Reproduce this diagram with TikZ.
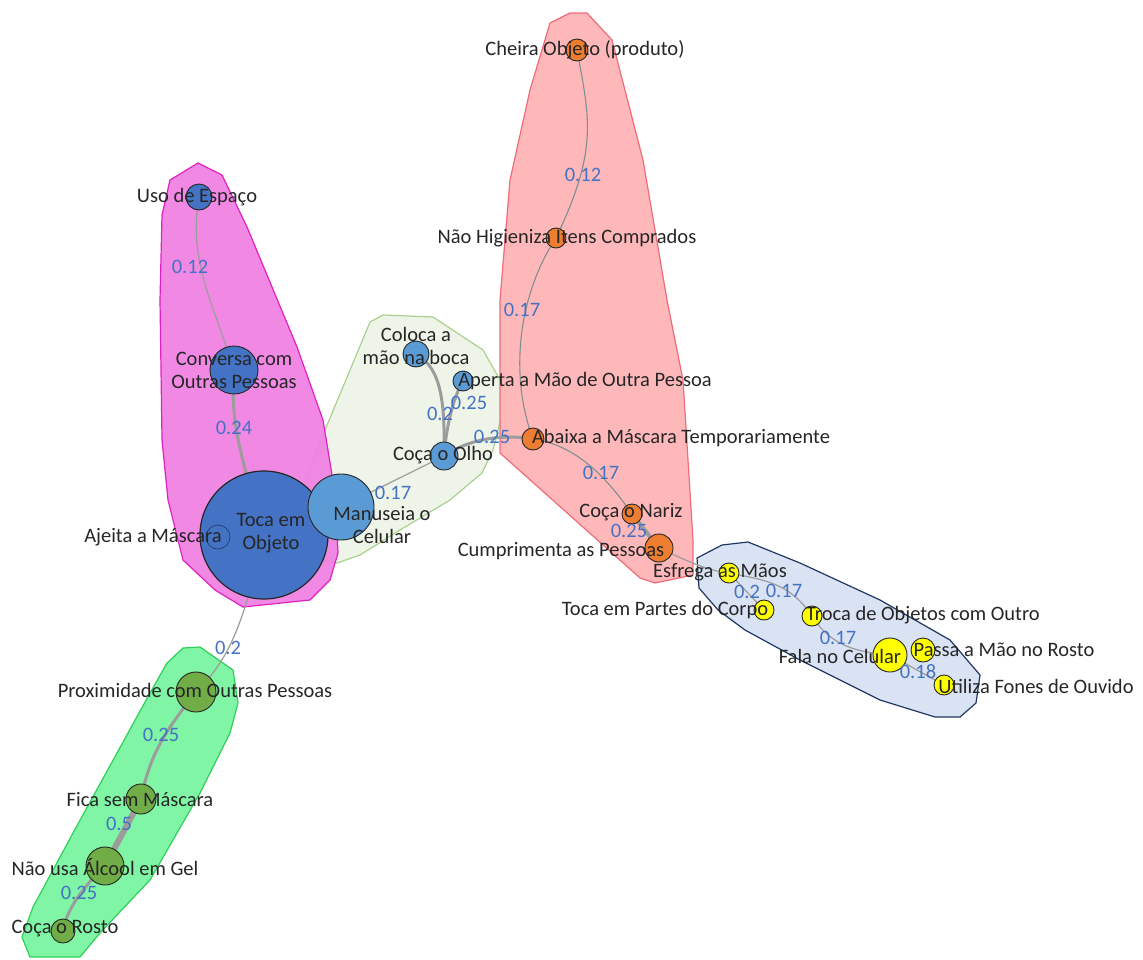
\documentclass[tikz,border=0pt]{standalone}
\usepackage{fontspec}
\setmainfont{Carlito}
\definecolor{dblue}{HTML}{4472C4}
\definecolor{lblue}{HTML}{5B9BD5}
\definecolor{orng}{HTML}{ED7D31}
\definecolor{yel}{HTML}{FFFF00}
\definecolor{olive}{HTML}{70AD47}
\definecolor{edgec}{HTML}{9C9C9C}
\definecolor{edgerd}{HTML}{7F8F8F}
\definecolor{elc}{HTML}{4472C4}
\definecolor{magf}{HTML}{F07FE2}
\definecolor{magd}{HTML}{E020C0}
\definecolor{lgf}{HTML}{EEF5E8}
\definecolor{lgd}{HTML}{A9D18E}
\definecolor{redf}{HTML}{FFB8BA}
\definecolor{redd}{HTML}{F06B78}
\definecolor{bluf}{HTML}{DAE3F3}
\definecolor{blud}{HTML}{1F3864}
\definecolor{grnf}{HTML}{80F5A5}
\definecolor{grnd}{HTML}{2ED05A}
\tikzset{
  hull/.style={line width=1.2pt, line join=round},
  nd/.style={circle, draw=black!85, line width=0.9pt, inner sep=0pt},
  lbl/.style={font=\fontsize{20.5}{23}\selectfont, text=black!85, inner sep=0pt, align=center},
  elbl/.style={font=\fontsize{20.5}{23}\selectfont, text=elc, inner sep=0pt},
  edge/.style={draw=edgec, line width=1.2pt},
  redge/.style={draw=edgerd, line width=1.1pt},
  thk/.style={draw=edgec, line width=3pt},
}
\begin{document}
\begin{tikzpicture}[x=1pt,y=-1pt]
\useasboundingbox (0,0) rectangle (1143,959);
% hulls
\draw[hull, fill=lgf, draw=lgd] (383,315) -- (433,317) -- (483,350) -- (500,380) -- (503,410) -- (493,450) -- (482,473) -- (450,500) -- (400,530) -- (360,555) -- (337,563) -- (318,560) -- (300,540) -- (298,500) -- (325,430) -- (370,322) -- cycle;
\draw[hull, fill=magf, draw=magd, fill opacity=0.92] (198,163) -- (222,175) -- (247,227) -- (297,347) -- (323,420) -- (335,493) -- (338,553) -- (330,580) -- (310,600) -- (243,607) -- (215,590) -- (183,560) -- (168,500) -- (162,440) -- (160,300) -- (162,215) -- (170,180) -- cycle;
\draw[hull, fill=redf, draw=redd] (550,23) -- (570,13) -- (587,13) -- (612,40) -- (643,160) -- (667,300) -- (683,380) -- (693,540) -- (693,575) -- (655,583) -- (640,578) -- (500,453) -- (500,300) -- (510,180) -- (530,90) -- cycle;
\draw[hull, fill=bluf, draw=blud] (697,558) -- (722,545) -- (748,542) -- (800,563) -- (880,600) -- (950,640) -- (980,675) -- (976,703) -- (960,717) -- (935,717) -- (880,700) -- (800,660) -- (745,630) -- (718,610) -- (699,588) -- cycle;
\draw[hull, fill=grnf, draw=grnd] (183,648) -- (200,647) -- (233,670) -- (238,703) -- (230,733) -- (200,793) -- (150,880) -- (100,933) -- (80,957) -- (30,957) -- (22,937) -- (33,907) -- (73,833) -- (117,753) -- (150,693) -- (167,663) -- cycle;
% node positions
\coordinate (uso) at (199,197);
\coordinate (conv) at (234,370);
\coordinate (toca) at (264,535);
\coordinate (ajei) at (218,537);
\coordinate (manu) at (341,507);
\coordinate (colo) at (416,354);
\coordinate (aper) at (463,381);
\coordinate (olho) at (444,456);
\coordinate (chei) at (577,50);
\coordinate (nhig) at (556,238);
\coordinate (abai) at (533,439);
\coordinate (nari) at (632,514);
\coordinate (cump) at (659,548);
\coordinate (esfr) at (729,573);
\coordinate (tpar) at (764,610);
\coordinate (troc) at (812,616);
\coordinate (fala) at (890,655);
\coordinate (pass) at (923,650);
\coordinate (util) at (944,685);
\coordinate (prox) at (196,692);
\coordinate (fica) at (141,799);
\coordinate (nusa) at (105,866);
\coordinate (rost) at (63,931);
% edges
\draw[edge] (uso) .. controls (188,260) and (212,300) .. (conv);
\draw[thk] (conv) .. controls (230,420) and (240,455) .. (toca);
\draw[edge] (toca) .. controls (242,630) and (228,660) .. (prox);
\draw[thk] (prox) .. controls (168,728) and (150,752) .. (fica);
\draw[draw=edgec, line width=6pt] (fica) -- (nusa);
\draw[thk] (nusa) .. controls (80,890) and (66,912) .. (rost);
\draw[edge] (manu) -- (olho);
\draw[thk] (colo) .. controls (442,368) and (445,405) .. (olho);
\draw[thk] (aper) .. controls (452,400) and (446,430) .. (olho);
\draw[thk] (olho) .. controls (470,438) and (505,434) .. (abai);
\draw[redge] (chei) .. controls (590,120) and (598,150) .. (nhig);
\draw[redge] (nhig) .. controls (520,292) and (508,372) .. (abai);
\draw[redge] (abai) .. controls (575,445) and (605,475) .. (nari);
\draw[draw=edgec, line width=4pt] (nari) -- (cump);
\draw[edge] (cump) .. controls (690,562) and (705,570) .. (esfr);
\draw[edge] (esfr) -- (tpar);
\draw[edge] (esfr) .. controls (765,580) and (790,583) .. (troc);
\draw[edge] (troc) .. controls (832,648) and (860,652) .. (fala);
\draw[edge] (fala) -- (util);
% nodes
\node[nd, fill=dblue, minimum size=26pt] (n-uso) at (uso) {};
\node[nd, fill=dblue, minimum size=48pt] (n-conv) at (conv) {};
\node[nd, fill=dblue, minimum size=128pt, line width=1.2pt] (n-toca) at (toca) {};
\node[circle, draw=blud, line width=0.6pt, minimum size=24pt, inner sep=0pt] (n-ajei) at (ajei) {};
\node[nd, fill=lblue, minimum size=66pt] (n-manu) at (manu) {};
\node[nd, fill=lblue, minimum size=26pt] (n-colo) at (colo) {};
\node[nd, fill=lblue, minimum size=20pt] (n-aper) at (aper) {};
\node[nd, fill=lblue, minimum size=28pt] (n-olho) at (olho) {};
\node[nd, fill=orng, minimum size=22pt] (n-chei) at (chei) {};
\node[nd, fill=orng, minimum size=20pt] (n-nhig) at (nhig) {};
\node[nd, fill=orng, minimum size=22pt] (n-abai) at (abai) {};
\node[nd, fill=orng, minimum size=20pt] (n-nari) at (nari) {};
\node[nd, fill=orng, minimum size=28pt] (n-cump) at (cump) {};
\node[nd, fill=yel, minimum size=20pt] (n-esfr) at (esfr) {};
\node[nd, fill=yel, minimum size=20pt] (n-tpar) at (tpar) {};
\node[nd, fill=yel, minimum size=20pt] (n-troc) at (troc) {};
\node[nd, fill=yel, minimum size=34pt] (n-fala) at (fala) {};
\node[nd, fill=yel, minimum size=24pt] (n-pass) at (pass) {};
\node[nd, fill=yel, minimum size=20pt] (n-util) at (util) {};
\node[nd, fill=olive, minimum size=40pt] (n-prox) at (prox) {};
\node[nd, fill=olive, minimum size=30pt] (n-fica) at (fica) {};
\node[nd, fill=olive, minimum size=38pt] (n-nusa) at (nusa) {};
\node[nd, fill=olive, minimum size=24pt] (n-rost) at (rost) {};
% labels
\node[lbl] (l-uso) at (197,197) {Uso de Espaço};
\node[lbl] (l-conv) at (234,370) {Conversa com\\Outras Pessoas};
\node[lbl] (l-toca) at (271,533) {Toca em\\Objeto};
\node[lbl] (l-ajei) at (153,537) {Ajeita a Máscara};
\node[lbl] (l-manu) at (382,525) {Manuseia o\\Celular};
\node[lbl] (l-colo) at (416,346) {Coloca a\\mão na boca};
\node[lbl] (l-aper) at (585,381) {Aperta a Mão de Outra Pessoa};
\node[lbl] (l-olho) at (443,455) {Coça o Olho};
\node[lbl] (l-chei) at (585,50) {Cheira Objeto (produto)};
\node[lbl] (l-nhig) at (567,238) {Não Higieniza Itens Comprados};
\node[lbl] (l-abai) at (681,438) {Abaixa a Máscara Temporariamente};
\node[lbl] (l-nari) at (631,512) {Coça o Nariz};
\node[lbl] (l-cump) at (561,551) {Cumprimenta as Pessoas};
\node[lbl] (l-esfr) at (720,572) {Esfrega as Mãos};
\node[lbl] (l-tpar) at (665,610) {Toca em Partes do Corpo};
\node[lbl] (l-troc) at (923,615) {Troca de Objetos com Outro};
\node[lbl] (l-fala) at (840,656) {Fala no Celular};
\node[lbl] (l-pass) at (1004,650) {Passa a Mão no Rosto};
\node[lbl] (l-util) at (1036,686) {Utiliza Fones de Ouvido};
\node[lbl] (l-prox) at (195,690) {Proximidade com Outras Pessoas};
\node[lbl] (l-fica) at (140,800) {Fica sem Máscara};
\node[lbl] (l-nusa) at (105,867) {Não usa Álcool em Gel};
\node[lbl] (l-rost) at (65,929) {Coça o Rosto};
% edge labels
\node[elbl] (e1) at (190,267) {0.12};
\node[elbl] (e2) at (234,428) {0.24};
\node[elbl] (e3) at (228,648) {0.2};
\node[elbl] (e4) at (161,735) {0.25};
\node[elbl] (e5) at (119,824) {0.5};
\node[elbl] (e6) at (79,893) {0.25};
\node[elbl] (e7) at (393,493) {0.17};
\node[elbl] (e8) at (440,414) {0.2};
\node[elbl] (e9) at (469,403) {0.25};
\node[elbl] (e10) at (492,437) {0.25};
\node[elbl] (e11) at (583,175) {0.12};
\node[elbl] (e12) at (522,310) {0.17};
\node[elbl] (e13) at (601,473) {0.17};
\node[elbl] (e14) at (629,531) {0.25};
\node[elbl] (e15) at (747,592) {0.2};
\node[elbl] (e16) at (784,591) {0.17};
\node[elbl] (e17) at (838,638) {0.17};
\node[elbl] (e18) at (918,672) {0.18};
\end{tikzpicture}
\end{document}
